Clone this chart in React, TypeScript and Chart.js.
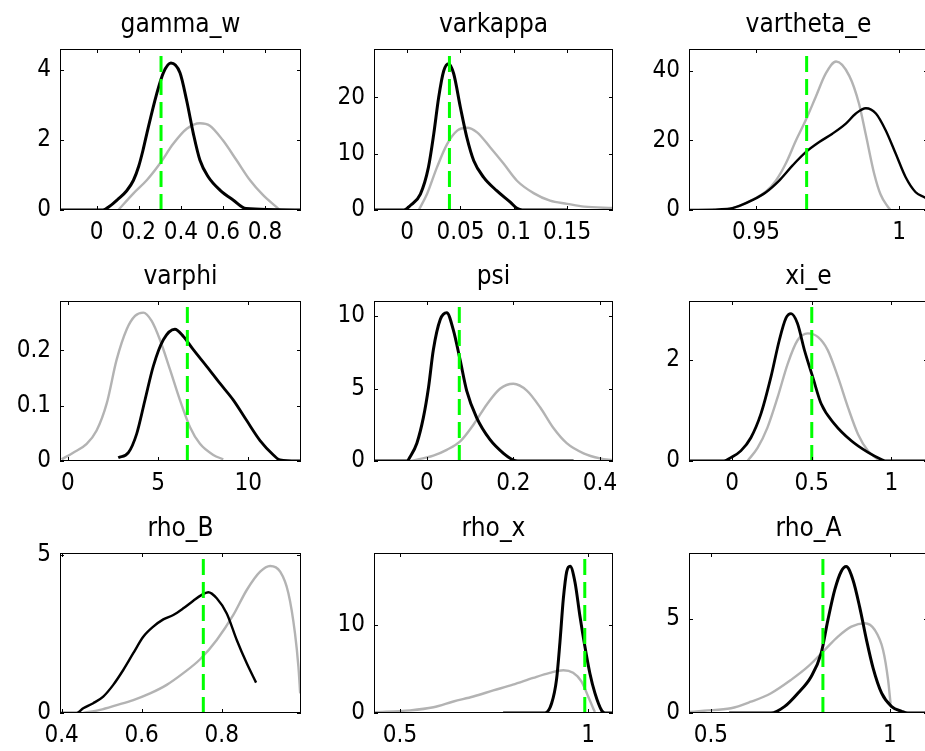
import React, { useEffect, useRef } from 'react';
import { Chart, registerables } from 'chart.js';

Chart.register(...registerables);

// ---------------- data ----------------
// [x, density] pairs; prior = grey, posterior = black, mode = green dashed line

const gammaWTitle = 'gamma_w';
const gammaWPrior = [[0.103, 0], [0.174, 0.47], [0.238, 0.85], [0.3, 1.32], [0.364, 1.89], [0.428, 2.32], [0.491, 2.48], [0.538, 2.41], [0.6, 1.99], [0.665, 1.42], [0.729, 0.85], [0.79, 0.43], [0.855, 0.08], [0.87, 0]];
const gammaWPost = [[-0.174, 0], [0.03, 0], [0.06, 0.1], [0.1, 0.3], [0.143, 0.55], [0.175, 0.85], [0.2, 1.25], [0.22, 1.7], [0.238, 2.17], [0.285, 3.31], [0.317, 3.92], [0.353, 4.2], [0.396, 3.92], [0.428, 3.12], [0.46, 2.17], [0.491, 1.42], [0.53, 0.95], [0.586, 0.57], [0.65, 0.28], [0.71, 0.04], [0.971, 0]];
const gammaWMode = 0.306;
const gammaWXRange = [-0.174, 0.971];
const gammaWYRange = [0, 4.6];
const gammaWXTicks = [0, 0.2, 0.4, 0.6, 0.8];
const gammaWXLabels = ['0', '0.2', '0.4', '0.6', '0.8'];
const gammaWYTicks = [0, 2, 4];
const gammaWYLabels = ['0', '2', '4'];

const varkappaTitle = 'varkappa';
const varkappaPrior = [[0.011, 0], [0.0187, 2.84], [0.028, 7.57], [0.0375, 11.7], [0.047, 14.1], [0.056, 14.6], [0.0656, 13.8], [0.078, 11.1], [0.0906, 8.2], [0.103, 5.2], [0.119, 2.95], [0.134, 1.65], [0.15, 1.1], [0.166, 0.6], [0.193, 0.35]];
const varkappaPost = [[-0.031, 0], [-0.003, 0], [0.003, 0.8], [0.0125, 2.84], [0.02, 7.57], [0.025, 13.5], [0.0296, 20], [0.0343, 24.7], [0.039, 26.0], [0.0437, 24.2], [0.05, 18.2], [0.056, 12.9], [0.0625, 8.76], [0.0718, 5.8], [0.084, 3.43], [0.097, 1.35], [0.103, 0.3], [0.108, 0], [0.15, 0]];
const varkappaMode = 0.0397;
const varkappaXRange = [-0.031, 0.193];
const varkappaYRange = [0, 28.6];
const varkappaXTicks = [0, 0.05, 0.1, 0.15];
const varkappaXLabels = ['0', '0.05', '0.1', '0.15'];
const varkappaYTicks = [0, 10, 20];
const varkappaYLabels = ['0', '10', '20'];

const varthetaETitle = 'vartheta_e';
const varthetaEPrior = [[0.935, 0], [0.9419, 0.5], [0.9489, 3.0], [0.9535, 5.3], [0.957, 8.5], [0.9605, 13.5], [0.964, 20], [0.9674, 25.8], [0.9709, 32.5], [0.9744, 39.2], [0.978, 42.6], [0.9826, 38.5], [0.986, 30.5], [0.9884, 21.5], [0.9913, 10.4], [0.9935, 4.5], [0.996, 1.0], [0.997, 0]];
const varthetaEPost = [[0.9266, 0], [0.94, 0.3], [0.9442, 1.2], [0.9489, 2.9], [0.9535, 5.1], [0.9581, 8.45], [0.9628, 12.8], [0.9674, 16.6], [0.9721, 19.5], [0.9767, 21.9], [0.9814, 24.8], [0.9849, 27.7], [0.9884, 29.2], [0.9919, 27.7], [0.9953, 22.9], [0.9988, 16.2], [1.0023, 9.4], [1.0058, 5.1], [1.009, 3.6], [1.0101, 3.0]];
const varthetaEMode = 0.9677;
const varthetaEXRange = [0.9266, 1.0101];
const varthetaEYRange = [0, 46.2];
const varthetaEXTicks = [0.95, 1];
const varthetaEXLabels = ['0.95', '1'];
const varthetaEYTicks = [0, 20, 40];
const varthetaEYLabels = ['0', '20', '40'];

const varphiTitle = 'varphi';
const varphiPrior = [[-0.35, 0.003], [0.29, 0.015], [1.04, 0.031], [1.59, 0.055], [2.15, 0.104], [2.7, 0.183], [3.26, 0.238], [3.72, 0.262], [4.18, 0.268], [4.64, 0.253], [5.1, 0.219], [5.66, 0.165], [6.21, 0.11], [6.77, 0.061], [7.32, 0.031], [8.06, 0.011], [8.61, 0.003]];
const varphiPost = [[2.79, 0.006], [3.35, 0.015], [3.81, 0.049], [4.27, 0.11], [4.73, 0.171], [5.29, 0.219], [5.93, 0.238], [6.4, 0.225], [6.95, 0.201], [7.69, 0.171], [8.43, 0.14], [9.17, 0.11], [9.91, 0.073], [10.65, 0.037], [11.39, 0.011], [11.76, 0.002], [12.92, 0]];
const varphiMode = 6.62;
const varphiXRange = [-0.44, 12.92];
const varphiYRange = [0, 0.289];
const varphiXTicks = [0, 5, 10];
const varphiXLabels = ['0', '5', '10'];
const varphiYTicks = [0, 0.1, 0.2];
const varphiYLabels = ['0', '0.1', '0.2'];

const psiTitle = 'psi';
const psiPrior = [[-0.038, 0], [0.015, 0.37], [0.046, 0.77], [0.077, 1.35], [0.108, 2.52], [0.139, 3.92], [0.169, 4.99], [0.2, 5.33], [0.231, 4.86], [0.262, 3.69], [0.292, 2.29], [0.323, 1.23], [0.362, 0.53], [0.4, 0.18], [0.43, 0.05]];
const psiPost = [[-0.122, 0], [-0.046, 0], [-0.0385, 0.3], [-0.023, 1.23], [-0.008, 2.99], [0.004, 5.09], [0.015, 7.66], [0.031, 9.76], [0.046, 10.23], [0.061, 9.06], [0.077, 6.96], [0.092, 4.86], [0.115, 2.99], [0.146, 1.47], [0.177, 0.53], [0.2, 0.06], [0.21, 0], [0.339, 0]];
const psiMode = 0.075;
const psiXRange = [-0.122, 0.43];
const psiYRange = [0, 11.04];
const psiXTicks = [0, 0.2, 0.4];
const psiXLabels = ['0', '0.2', '0.4'];
const psiYTicks = [0, 5, 10];
const psiYLabels = ['0', '5', '10'];

const xiETitle = 'xi_e';
const xiEPrior = [[0.097, 0], [0.16, 0.26], [0.222, 0.66], [0.286, 1.26], [0.349, 1.92], [0.41, 2.38], [0.475, 2.52], [0.538, 2.45], [0.6, 2.19], [0.664, 1.66], [0.727, 1.06], [0.79, 0.53], [0.853, 0.2], [0.916, 0.03], [0.93, 0]];
const xiEPost = [[-0.27, 0], [-0.05, 0], [-0.008, 0.066], [0.055, 0.2], [0.118, 0.46], [0.181, 0.93], [0.244, 1.66], [0.296, 2.38], [0.338, 2.82], [0.37, 2.91], [0.41, 2.72], [0.454, 2.19], [0.506, 1.66], [0.559, 1.13], [0.643, 0.73], [0.748, 0.4], [0.853, 0.17], [0.937, 0.03], [0.96, 0], [1.229, 0]];
const xiEMode = 0.5;
const xiEXRange = [-0.27, 1.229];
const xiEYRange = [0, 3.16];
const xiEXTicks = [0, 0.5, 1];
const xiEXLabels = ['0', '0.5', '1'];
const xiEYTicks = [0, 2];
const xiEYLabels = ['0', '2'];

const rhoBTitle = 'rho_B';
const rhoBPrior = [[0.454, 0], [0.496, 0.1], [0.5375, 0.25], [0.579, 0.41], [0.621, 0.62], [0.6625, 0.89], [0.704, 1.26], [0.746, 1.7], [0.7875, 2.31], [0.829, 3.1], [0.8625, 3.89], [0.896, 4.47], [0.921, 4.65], [0.946, 4.47], [0.9665, 3.79], [0.983, 2.52], [0.9915, 1.47], [0.996, 0.62]];
const rhoBPost = [[0.396, 0], [0.4375, 0], [0.454, 0.15], [0.479, 0.31], [0.504, 0.52], [0.529, 0.89], [0.554, 1.36], [0.579, 1.89], [0.604, 2.41], [0.629, 2.73], [0.654, 2.96], [0.679, 3.1], [0.704, 3.31], [0.729, 3.55], [0.748, 3.72], [0.7665, 3.82], [0.7875, 3.63], [0.8125, 3.15], [0.8375, 2.31], [0.8625, 1.57], [0.8858, 0.96]];
const rhoBMode = 0.754;
const rhoBXRange = [0.396, 0.998];
const rhoBYRange = [0, 5.06];
const rhoBXTicks = [0.4, 0.6, 0.8];
const rhoBXLabels = ['0.4', '0.6', '0.8'];
const rhoBYTicks = [0, 5];
const rhoBYLabels = ['0', '5'];

const rhoXTitle = 'rho_x';
const rhoXPrior = [[0.431, 0.1], [0.527, 0.3], [0.589, 0.65], [0.642, 1.3], [0.695, 1.87], [0.748, 2.55], [0.8, 3.2], [0.854, 3.97], [0.898, 4.54], [0.934, 4.84], [0.96, 4.54], [0.982, 3.58], [1.0, 1.87], [1.013, 0.57], [1.018, 0.1]];
const rhoXPost = [[0.774, 0], [0.885, 0], [0.903, 1.1], [0.916, 3.8], [0.925, 8.0], [0.934, 12.9], [0.943, 16.0], [0.952, 16.6], [0.965, 14.8], [0.978, 11.0], [0.991, 7.6], [1.0045, 4.5], [1.018, 2.25], [1.036, 0.27], [1.045, 0], [1.066, 0]];
const rhoXMode = 0.991;
const rhoXXRange = [0.431, 1.066];
const rhoXYRange = [0, 18.1];
const rhoXXTicks = [0.5, 1];
const rhoXXLabels = ['0.5', '1'];
const rhoXYTicks = [0, 10];
const rhoXYLabels = ['0', '10'];

const rhoATitle = 'rho_A';
const rhoAPrior = [[0.439, 0.05], [0.481, 0.12], [0.556, 0.25], [0.612, 0.6], [0.668, 1.05], [0.724, 1.76], [0.771, 2.46], [0.818, 3.35], [0.855, 4.06], [0.8925, 4.59], [0.93, 4.77], [0.958, 4.41], [0.981, 3.35], [0.995, 1.76], [1.002, 0.5]];
const rhoAPost = [[0.551, 0], [0.668, 0], [0.7055, 0.34], [0.743, 1.05], [0.78, 1.93], [0.808, 3.17], [0.827, 4.95], [0.846, 6.54], [0.864, 7.52], [0.878, 7.78], [0.897, 7.07], [0.916, 5.6], [0.9345, 3.9], [0.953, 2.4], [0.977, 1.05], [1.005, 0.34], [1.033, 0.09], [1.05, 0], [1.1065, 0]];
const rhoAMode = 0.813;
const rhoAXRange = [0.439, 1.1065];
const rhoAYRange = [0, 8.5];
const rhoAXTicks = [0.5, 1];
const rhoAXLabels = ['0.5', '1'];
const rhoAYTicks = [0, 5];
const rhoAYLabels = ['0', '5'];

// ---------------- layout / style ----------------
const FONT = "'Liberation Sans Narrow', 'Arial Narrow', 'DejaVu Sans Condensed', 'Liberation Sans', Arial, sans-serif";
const TICK_SIZE = 24;
const TITLE_SIZE = 26;
const GREY = '#b3b3b3';
const GREEN = '#00ff00';

const COLS = [[60, 301], [374, 613], [689, 928]];
const ROWS = [[49, 210], [301, 461], [553, 713]];

const PAD_L = 62;
const PAD_T = 56;
const PAD_R = 26;
const PAD_B = 44;

type Panel = {
  title: string;
  prior: number[][];
  post: number[][];
  mode: number;
  xRange: number[];
  yRange: number[];
  xTicks: number[];
  xLabels: string[];
  yTicks: number[];
  yLabels: string[];
  postWidth: number;
};

const panels: Panel[] = [
  { title: gammaWTitle, prior: gammaWPrior, post: gammaWPost, mode: gammaWMode, xRange: gammaWXRange, yRange: gammaWYRange, xTicks: gammaWXTicks, xLabels: gammaWXLabels, yTicks: gammaWYTicks, yLabels: gammaWYLabels, postWidth: 3 },
  { title: varkappaTitle, prior: varkappaPrior, post: varkappaPost, mode: varkappaMode, xRange: varkappaXRange, yRange: varkappaYRange, xTicks: varkappaXTicks, xLabels: varkappaXLabels, yTicks: varkappaYTicks, yLabels: varkappaYLabels, postWidth: 3 },
  { title: varthetaETitle, prior: varthetaEPrior, post: varthetaEPost, mode: varthetaEMode, xRange: varthetaEXRange, yRange: varthetaEYRange, xTicks: varthetaEXTicks, xLabels: varthetaEXLabels, yTicks: varthetaEYTicks, yLabels: varthetaEYLabels, postWidth: 2.4 },
  { title: varphiTitle, prior: varphiPrior, post: varphiPost, mode: varphiMode, xRange: varphiXRange, yRange: varphiYRange, xTicks: varphiXTicks, xLabels: varphiXLabels, yTicks: varphiYTicks, yLabels: varphiYLabels, postWidth: 2.8 },
  { title: psiTitle, prior: psiPrior, post: psiPost, mode: psiMode, xRange: psiXRange, yRange: psiYRange, xTicks: psiXTicks, xLabels: psiXLabels, yTicks: psiYTicks, yLabels: psiYLabels, postWidth: 3 },
  { title: xiETitle, prior: xiEPrior, post: xiEPost, mode: xiEMode, xRange: xiEXRange, yRange: xiEYRange, xTicks: xiEXTicks, xLabels: xiEXLabels, yTicks: xiEYTicks, yLabels: xiEYLabels, postWidth: 2.8 },
  { title: rhoBTitle, prior: rhoBPrior, post: rhoBPost, mode: rhoBMode, xRange: rhoBXRange, yRange: rhoBYRange, xTicks: rhoBXTicks, xLabels: rhoBXLabels, yTicks: rhoBYTicks, yLabels: rhoBYLabels, postWidth: 2.4 },
  { title: rhoXTitle, prior: rhoXPrior, post: rhoXPost, mode: rhoXMode, xRange: rhoXXRange, yRange: rhoXYRange, xTicks: rhoXXTicks, xLabels: rhoXXLabels, yTicks: rhoXYTicks, yLabels: rhoXYLabels, postWidth: 3 },
  { title: rhoATitle, prior: rhoAPrior, post: rhoAPost, mode: rhoAMode, xRange: rhoAXRange, yRange: rhoAYRange, xTicks: rhoAXTicks, xLabels: rhoAXLabels, yTicks: rhoAYTicks, yLabels: rhoAYLabels, postWidth: 3 },
];

const toXY = (pts: number[][]) => pts.map(([x, y]) => ({ x, y }));

const framePlugin = {
  id: 'matlabFrame',
  afterDraw(chart: any, _args: any, opts: any) {
    const { ctx, chartArea } = chart;
    const left = Math.round(chartArea.left);
    const right = Math.round(chartArea.right);
    const top = Math.round(chartArea.top);
    const bottom = Math.round(chartArea.bottom);
    const xs = chart.scales.x;
    const ys = chart.scales.y;
    ctx.save();
    ctx.setLineDash([]);
    ctx.globalAlpha = 1;
    ctx.fillStyle = '#000';
    const w = right - left;
    const h = bottom - top;
    ctx.fillRect(left, top, w, 1);
    ctx.fillRect(left, bottom - 1, w, 1);
    ctx.fillRect(left, top, 1, h);
    ctx.fillRect(right - 1, top, 1, h);
    const tl = 4;
    for (const v of opts.xTicks) {
      const px = Math.round(xs.getPixelForValue(v));
      ctx.fillRect(px, bottom - tl, 1, tl);
      ctx.fillRect(px, top, 1, tl);
    }
    for (const v of opts.yTicks) {
      const py = Math.round(ys.getPixelForValue(v));
      ctx.fillRect(left, py, tl, 1);
      ctx.fillRect(right - tl, py, tl, 1);
    }
    ctx.font = `${TITLE_SIZE}px ${FONT}`;
    ctx.textAlign = 'center';
    ctx.textBaseline = 'alphabetic';
    ctx.fillText(opts.title, (left + right) / 2, top - 17);
    ctx.restore();
  },
};

function PanelChart({ p, idx }: { p: Panel; idx: number }) {
  const ref = useRef<HTMLCanvasElement | null>(null);
  const col = COLS[idx % 3];
  const row = ROWS[Math.floor(idx / 3)];
  const w = col[1] - col[0] + PAD_L + PAD_R;
  const h = row[1] - row[0] + PAD_T + PAD_B;

  useEffect(() => {
    if (!ref.current) return;
    const chart = new Chart(ref.current, {
      type: 'line',
      data: {
        datasets: [
          {
            data: [{ x: p.mode, y: p.yRange[0] }, { x: p.mode, y: p.yRange[1] }],
            borderColor: GREEN,
            borderWidth: 3,
            borderDash: [16, 7],
            pointRadius: 0,
            tension: 0,
          },
          {
            data: toXY(p.post),
            borderColor: '#000',
            borderWidth: p.postWidth,
            pointRadius: 0,
            cubicInterpolationMode: 'monotone',
          },
          {
            data: toXY(p.prior),
            borderColor: GREY,
            borderWidth: 2.4,
            pointRadius: 0,
            cubicInterpolationMode: 'monotone',
          },
        ],
      },
      options: {
        animation: false,
        responsive: false,
        maintainAspectRatio: false,
        devicePixelRatio: 1,
        events: [],
        layout: { padding: { left: 0, top: PAD_T, right: PAD_R, bottom: 0 } },
        plugins: {
          legend: { display: false },
          tooltip: { enabled: false },
          title: { display: false },
          matlabFrame: { title: p.title, xTicks: p.xTicks, yTicks: p.yTicks },
        } as any,
        scales: {
          x: {
            type: 'linear',
            min: p.xRange[0],
            max: p.xRange[1],
            grid: { display: false, drawTicks: false },
            border: { display: false },
            afterBuildTicks: (s: any) => {
              s.ticks = p.xTicks.map((v) => ({ value: v }));
            },
            afterFit: (s: any) => {
              s.height = PAD_B;
              s.paddingLeft = 0;
              s.paddingRight = 0;
            },
            ticks: {
              autoSkip: false,
              maxRotation: 0,
              minRotation: 0,
              padding: 8,
              color: '#000',
              font: { family: FONT, size: TICK_SIZE },
              callback: (_v: any, i: number) => p.xLabels[i],
            },
          },
          y: {
            type: 'linear',
            min: p.yRange[0],
            max: p.yRange[1],
            grid: { display: false, drawTicks: false },
            border: { display: false },
            afterBuildTicks: (s: any) => {
              s.ticks = p.yTicks.map((v) => ({ value: v }));
            },
            afterFit: (s: any) => {
              s.width = PAD_L;
              s.paddingTop = 0;
              s.paddingBottom = 0;
            },
            ticks: {
              autoSkip: false,
              padding: 9,
              color: '#000',
              font: { family: FONT, size: TICK_SIZE },
              callback: (_v: any, i: number) => p.yLabels[i],
            },
          },
        },
      } as any,
      plugins: [framePlugin],
    });
    return () => chart.destroy();
  }, []);

  return (
    <canvas
      ref={ref}
      width={w}
      height={h}
      style={{ position: 'absolute', left: col[0] - PAD_L, top: row[0] - PAD_T, width: w, height: h }}
    />
  );
}

export default function App() {
  return (
    <div
      style={{
        position: 'fixed',
        left: 0,
        top: 0,
        width: 925,
        height: 751,
        overflow: 'hidden',
        background: '#fff',
      }}
    >
      {panels.map((p, i) => (
        <PanelChart key={p.title} p={p} idx={i} />
      ))}
    </div>
  );
}
